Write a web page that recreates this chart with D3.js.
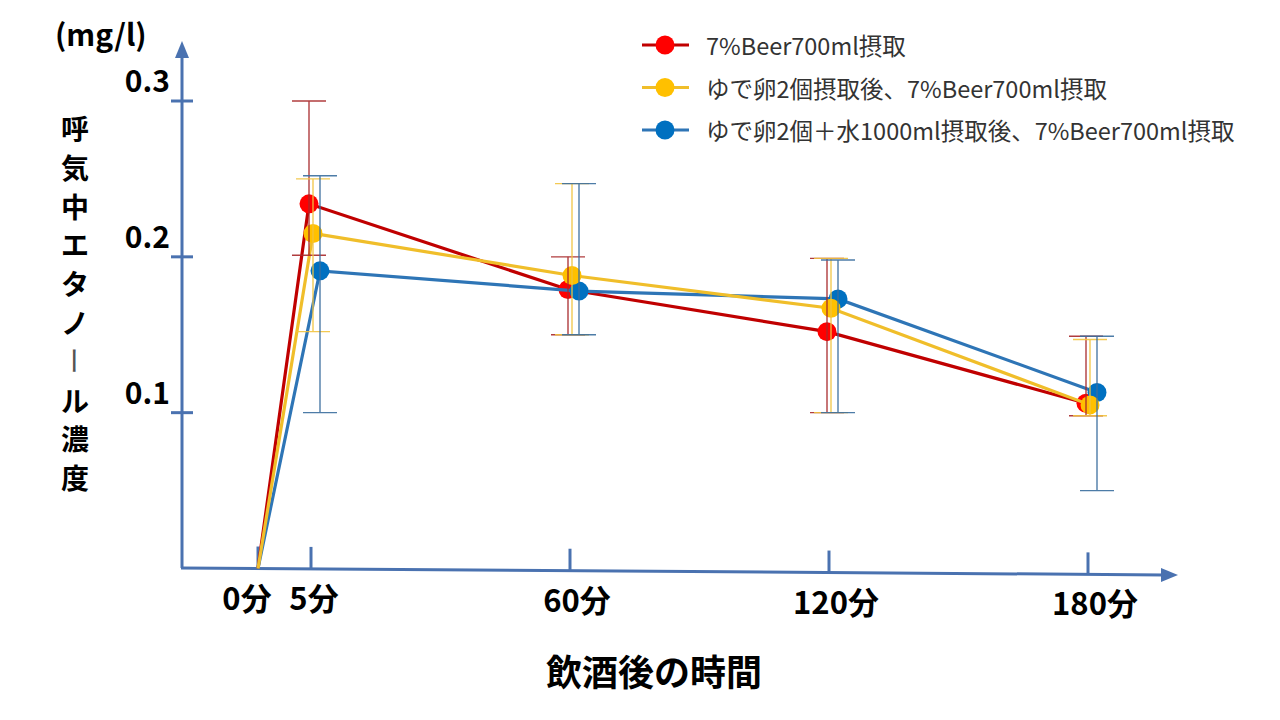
<html>
<head>
  <meta charset="utf-8">
  <script src="https://d3js.org/d3.v7.min.js"></script>
  <style>
    body { margin: 0; background: #fff; }
    text { font-family: "Noto Sans CJK JP", "Noto Sans", sans-serif; }
  </style>
</head>
<body>
  <svg id="chart" width="1280" height="720"></svg>
  <script>
    // time points (minutes after drinking) and their labels
    const times = [0, 5, 60, 120, 180];
    const timeLabels = ["0分", "5分", "60分", "120分", "180分"];
    const yTicks = [0.1, 0.2, 0.3];

    const seriesNames = [
      "7%Beer700ml摂取",
      "ゆで卵2個摂取後、7%Beer700ml摂取",
      "ゆで卵2個＋水1000ml摂取後、7%Beer700ml摂取"
    ];

    // mean values
    const beerOnly = [0, 0.234, 0.179, 0.152, 0.106];
    const eggBeer = [0, 0.215, 0.188, 0.167, 0.105];
    const eggWaterBeer = [0, 0.191, 0.178, 0.173, 0.113];

    // error bar tops / bottoms
    const beerOnlyHi = [null, 0.300, 0.200, 0.199, 0.149];
    const beerOnlyLo = [null, 0.201, 0.150, 0.100, 0.098];
    const eggBeerHi = [null, 0.250, 0.247, 0.199, 0.147];
    const eggBeerLo = [null, 0.152, 0.150, 0.100, 0.098];
    const eggWaterBeerHi = [null, 0.252, 0.247, 0.198, 0.149];
    const eggWaterBeerLo = [null, 0.100, 0.150, 0.100, 0.050];

    const svg = d3.select("svg#chart");
    const axisColor = "#4A72B0";

    const series = [
      { name: seriesNames[0], vals: beerOnly, hi: beerOnlyHi, lo: beerOnlyLo,
        line: "#C00000", dot: "#FF0000", bar: "#A8282A", dx: -2 },
      { name: seriesNames[1], vals: eggBeer, hi: eggBeerHi, lo: eggBeerLo,
        line: "#F0BE2A", dot: "#FFC000", bar: "#F2C440", dx: 2 },
      { name: seriesNames[2], vals: eggWaterBeer, hi: eggWaterBeerHi, lo: eggWaterBeerLo,
        line: "#2E75B6", dot: "#0070C0", bar: "#3A6E9E", dx: 9 }
    ];

    const xScale = d3.scaleLinear().domain([0, 5, 60, 180]).range([258, 311, 570, 1088]);
    const yScale = d3.scaleLinear().domain([0, 0.3]).range([568.5, 101]);
    // x axis is drawn slightly tilted in the original
    const axisY = d3.scaleLinear().domain([182, 1177]).range([568, 575]);

    const px = (s, t) => xScale(t) + (t === 0 ? 0 : s.dx);

    // axes
    svg.append("line")
      .attr("x1", 182).attr("y1", 568).attr("x2", 182).attr("y2", 56)
      .attr("stroke", axisColor).attr("stroke-width", 3);
    svg.append("path")
      .attr("d", "M182,41 L175,58 L189,58 Z")
      .attr("fill", axisColor);
    svg.append("line")
      .attr("x1", 181).attr("y1", axisY(182)).attr("x2", 1164).attr("y2", axisY(1164))
      .attr("stroke", axisColor).attr("stroke-width", 3);
    svg.append("path")
      .attr("d", `M1178,${axisY(1178)} L1161,${axisY(1161) - 7} L1161,${axisY(1161) + 7} Z`)
      .attr("fill", axisColor);

    // y ticks + labels
    yTicks.forEach(v => {
      svg.append("line")
        .attr("x1", 171).attr("x2", 193)
        .attr("y1", yScale(v)).attr("y2", yScale(v))
        .attr("stroke", axisColor).attr("stroke-width", 3);
      svg.append("text")
        .attr("x", 170).attr("y", yScale(v) - 9)
        .attr("text-anchor", "end")
        .attr("font-size", 30).attr("font-weight", "bold")
        .attr("fill", "#000")
        .text(v.toFixed(1));
    });

    svg.append("text")
      .attr("x", 55).attr("y", 46)
      .attr("font-size", 30).attr("font-weight", "bold")
      .attr("fill", "#000")
      .text("(mg/l)");

    // x ticks + labels
    times.forEach((t, i) => {
      const x = xScale(t);
      svg.append("line")
        .attr("x1", x).attr("x2", x)
        .attr("y1", axisY(x) - 22).attr("y2", axisY(x))
        .attr("stroke", axisColor).attr("stroke-width", 3);
      svg.append("text")
        .attr("x", x + (i === 0 ? -11 : i === 1 ? 3 : 7))
        .attr("y", axisY(x) + 41)
        .attr("text-anchor", "middle")
        .attr("font-size", 31).attr("font-weight", "bold")
        .attr("fill", "#000")
        .text(timeLabels[i]);
    });

    // axis titles
    svg.append("text")
      .attr("x", 654).attr("y", 686)
      .attr("text-anchor", "middle")
      .attr("font-size", 36).attr("font-weight", "bold")
      .attr("fill", "#000")
      .text("飲酒後の時間");

    const yTitle = "呼気中エタノール濃度";
    Array.from(yTitle).forEach((ch, i) => {
      const cy = 128 + i * 38.8;
      const t = svg.append("text")
        .attr("x", 75).attr("y", cy)
        .attr("text-anchor", "middle")
        .attr("dominant-baseline", "central")
        .attr("font-size", 28).attr("font-weight", "bold")
        .attr("fill", "#000")
        .text(ch);
      if (ch === "ー") t.attr("transform", `rotate(90,75,${cy})`).attr("font-weight", "normal").attr("fill", "#555");
    });

    // lines and markers (yellow drawn last, on top)
    const drawOrder = [series[0], series[2], series[1]];
    drawOrder.forEach(s => {
      const pts = times.map((t, i) => [px(s, t), yScale(s.vals[i])]);
      svg.append("path")
        .attr("d", d3.line()(pts))
        .attr("fill", "none")
        .attr("stroke", s.line)
        .attr("stroke-width", 3.2);
      svg.selectAll(null)
        .data(times.slice(1))
        .join("circle")
        .attr("cx", t => px(s, t))
        .attr("cy", (t, i) => yScale(s.vals[i + 1]))
        .attr("r", 9.5)
        .attr("fill", s.dot);
    });

    // error bars on top
    series.forEach(s => {
      times.forEach((t, i) => {
        if (s.hi[i] == null) return;
        const x = px(s, t);
        const g = svg.append("g")
          .attr("stroke", s.bar).attr("stroke-width", 1.4).attr("opacity", 0.9);
        g.append("line").attr("x1", x).attr("x2", x)
          .attr("y1", yScale(s.hi[i])).attr("y2", yScale(s.lo[i]));
        [s.hi[i], s.lo[i]].forEach(v => {
          g.append("line").attr("x1", x - 17).attr("x2", x + 17)
            .attr("y1", yScale(v)).attr("y2", yScale(v));
        });
      });
    });

    // legend
    series.forEach((s, i) => {
      const y = 45 + i * 42.5;
      svg.append("line")
        .attr("x1", 642).attr("x2", 689).attr("y1", y).attr("y2", y)
        .attr("stroke", s.line).attr("stroke-width", 3);
      svg.append("circle")
        .attr("cx", 665).attr("cy", y).attr("r", 9.5)
        .attr("fill", s.dot);
      svg.append("text")
        .attr("x", 706).attr("y", y)
        .attr("dominant-baseline", "central")
        .attr("font-size", 23.5)
        .attr("fill", "#333")
        .text(s.name);
    });
  </script>
</body>
</html>
